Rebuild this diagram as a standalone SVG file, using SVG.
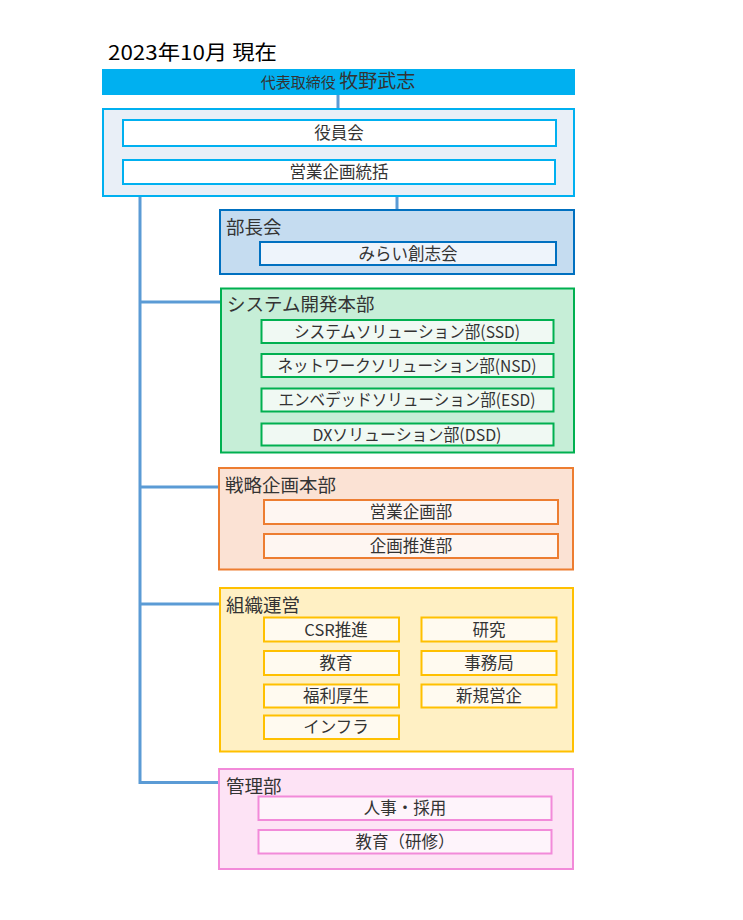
<svg xmlns="http://www.w3.org/2000/svg" width="743" height="920" viewBox="0 0 743 920">
<style>
text{font-family:"Noto Sans CJK JP","Noto Sans",sans-serif;fill:#333333}
.t{font-size:16.5px;text-anchor:middle}
.g{font-size:18.5px}
.ln{stroke:#5B9BD5;stroke-width:3;fill:none}
</style>
<rect width="743" height="920" fill="#ffffff"/>
<text x="108" y="60" textLength="169" lengthAdjust="spacingAndGlyphs" style="font-size:20px;fill:#000">2023年10月 現在</text>
<g id="connectors">
<line class="ln" x1="338" y1="95" x2="338" y2="109"/>
<line class="ln" x1="397" y1="197" x2="397" y2="210"/>
<line class="ln" x1="140" y1="197" x2="140" y2="784"/>
<line class="ln" x1="140" y1="302" x2="221" y2="302"/>
<line class="ln" x1="140" y1="487" x2="219" y2="487"/>
<line class="ln" x1="140" y1="604" x2="220" y2="604"/>
<line class="ln" x1="140" y1="782.5" x2="219" y2="782.5"/>
</g>
<g id="ceo">
<rect x="102" y="69" width="473" height="26" fill="#00B0F0"/>
<text x="338" y="88" text-anchor="middle"><tspan style="font-size:15px">代表取締役 </tspan><tspan style="font-size:19px">牧野武志</tspan></text>
</g>
<g id="exec">
<rect x="103" y="109" width="471" height="87" fill="#E9EFF7" stroke="#00B0F0" stroke-width="2"/>
<g id="yakuinkai"><rect x="123" y="120" width="433" height="26" fill="#fff" stroke="#00B0F0" stroke-width="2"/><text class="t" x="339" y="139">役員会</text></g>
<g id="eigyo-tokatsu"><rect x="123" y="160" width="432" height="24" fill="#fff" stroke="#00B0F0" stroke-width="2"/><text class="t" x="339" y="178">営業企画統括</text></g>
</g>
<g id="buchokai">
<rect x="220" y="210" width="354" height="64" fill="#C5DCF0" stroke="#0070C0" stroke-width="2"/>
<text class="g" x="226" y="234">部長会</text>
<rect x="260" y="242" width="296" height="23" fill="#EEF4FB" stroke="#0070C0" stroke-width="2"/>
<text class="t" x="408" y="259.5">みらい創志会</text>
</g>
<g id="system">
<rect x="221" y="288.5" width="353" height="164" fill="#C6EED7" stroke="#00B050" stroke-width="2"/>
<text class="g" x="227" y="311">システム開発本部</text>
<g fill="#F0F9F3" stroke="#00B050" stroke-width="2">
<rect x="261.5" y="320" width="292" height="23"/>
<rect x="261.5" y="354" width="292" height="23"/>
<rect x="261.5" y="388.5" width="292" height="23"/>
<rect x="261.5" y="423.5" width="292" height="22"/>
</g>
<text class="t" x="407" y="337.5" textLength="226" lengthAdjust="spacingAndGlyphs">システムソリューション部(SSD)</text>
<text class="t" x="407" y="371.5" textLength="259" lengthAdjust="spacingAndGlyphs">ネットワークソリューション部(NSD)</text>
<text class="t" x="407" y="406" textLength="257" lengthAdjust="spacingAndGlyphs">エンベデッドソリューション部(ESD)</text>
<text class="t" x="407" y="440.5" textLength="189" lengthAdjust="spacingAndGlyphs">DXソリューション部(DSD)</text>
</g>
<g id="senryaku">
<rect x="219" y="468" width="354" height="101.5" fill="#FBE2D4" stroke="#ED7D31" stroke-width="2"/>
<text class="g" x="225" y="492">戦略企画本部</text>
<g fill="#FEF6F2" stroke="#ED7D31" stroke-width="2">
<rect x="264" y="500" width="294" height="24"/>
<rect x="264" y="534" width="294" height="24"/>
</g>
<text class="t" x="411" y="517.5">営業企画部</text>
<text class="t" x="411" y="551.5">企画推進部</text>
</g>
<g id="soshiki">
<rect x="220" y="588" width="353" height="163.5" fill="#FFF0C4" stroke="#FFC000" stroke-width="2"/>
<text class="g" x="226" y="612">組織運営</text>
<g fill="#FFFAF0" stroke="#FFC000" stroke-width="2">
<rect x="264" y="617.5" width="135" height="24"/>
<rect x="421.5" y="617.5" width="135" height="24"/>
<rect x="264" y="651" width="135" height="24"/>
<rect x="421.5" y="651" width="135" height="24"/>
<rect x="264" y="684.5" width="135" height="23"/>
<rect x="421.5" y="684.5" width="135" height="23"/>
<rect x="264" y="715.5" width="135" height="23.5"/>
</g>
<text class="t" x="336" y="635.5">CSR推進</text>
<text class="t" x="489" y="635.5">研究</text>
<text class="t" x="336" y="669">教育</text>
<text class="t" x="489" y="669">事務局</text>
<text class="t" x="336" y="702">福利厚生</text>
<text class="t" x="489" y="702">新規営企</text>
<text class="t" x="336" y="733">インフラ</text>
</g>
<g id="kanri">
<rect x="219" y="769" width="354" height="100" fill="#FDE3F5" stroke="#F28AD9" stroke-width="2"/>
<text class="g" x="226" y="793">管理部</text>
<g fill="#FEF4FB" stroke="#F28AD9" stroke-width="2">
<rect x="258.5" y="796.5" width="293" height="23.5"/>
<rect x="258.5" y="830" width="293" height="23.5"/>
</g>
<text class="t" x="405" y="814">人事・採用</text>
<text class="t" x="405" y="848">教育（研修）</text>
</g>
</svg>
